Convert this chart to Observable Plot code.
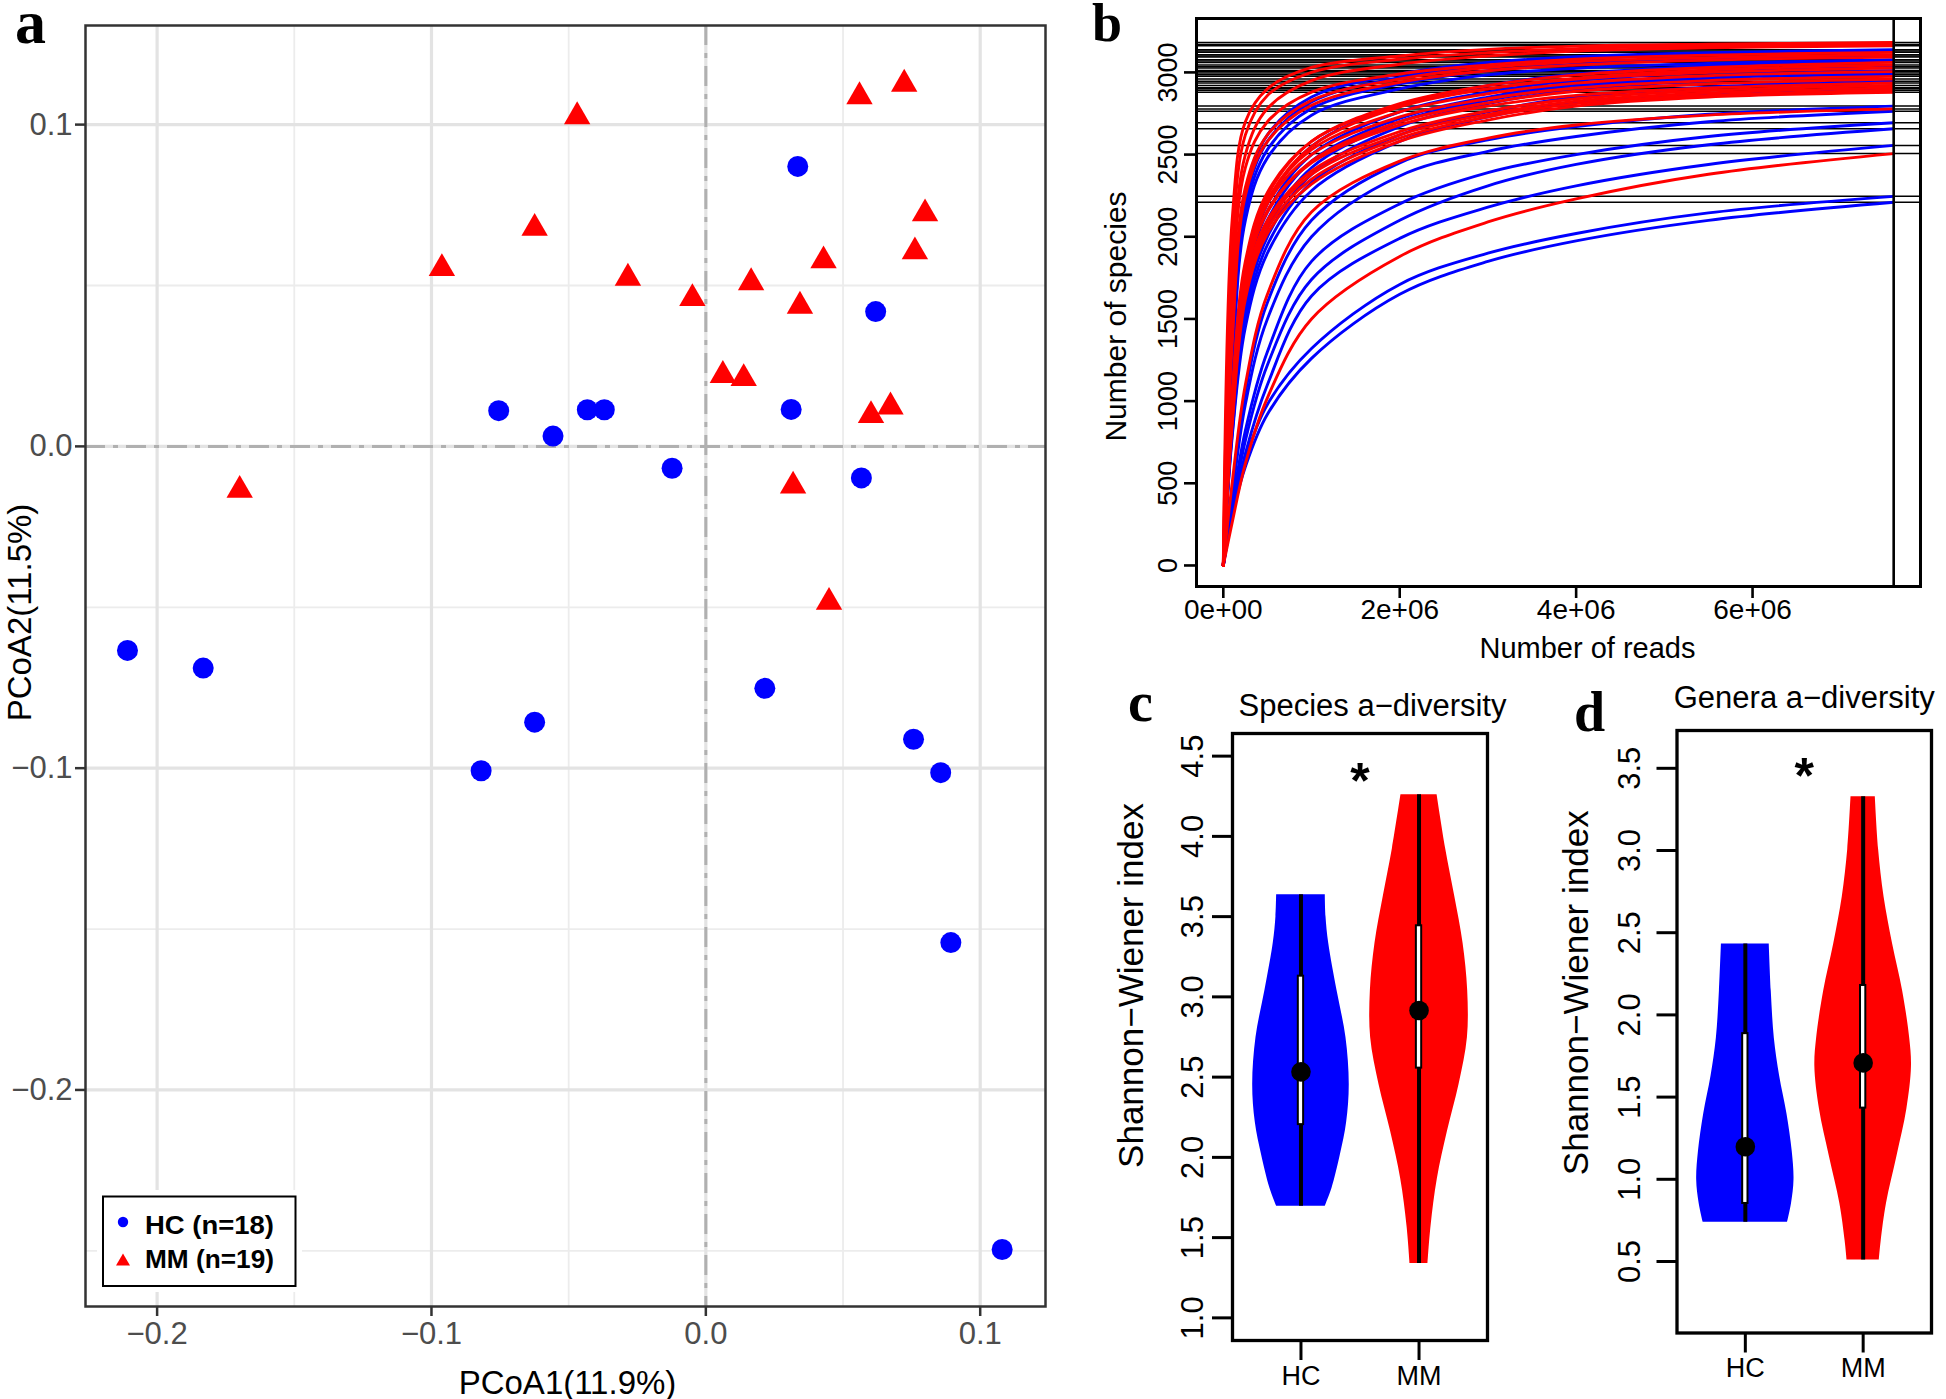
<!DOCTYPE html>
<html><head><meta charset="utf-8">
<script src="https://cdn.jsdelivr.net/npm/d3@7"></script>
<script src="https://cdn.jsdelivr.net/npm/@observablehq/plot@0.6"></script>
<style>
html,body{margin:0;padding:0;background:#fff;}
#root{position:relative;width:1946px;height:1399px;overflow:hidden;background:#fff;font-family:"Liberation Sans",Arial,sans-serif;}
.panel{position:absolute;}
</style></head><body><div id="root"></div>
<script>
// ================= DATA =================
const groups = ["HC", "MM"];
const groupColors = ["#0000FF", "#FF0000"];

// Panel a: PCoA coordinates
const hcPCoA1 = [0.0335, 0.0619, -0.0755, -0.0557, -0.0432, -0.0370, 0.0311, -0.0123, 0.0567, -0.2108, -0.1832, 0.0215, -0.0624, -0.0819, 0.0757, 0.0856, 0.0893, 0.1080];
const hcPCoA2 = [0.0870, 0.0419, 0.0111, 0.0032, 0.0114, 0.0114, 0.0115, -0.0068, -0.0098, -0.0634, -0.0689, -0.0752, -0.0857, -0.1008, -0.0910, -0.1014, -0.1542, -0.2496];
const mmPCoA1 = [-0.0469, 0.0560, 0.0723, 0.0799, 0.0762, -0.0624, -0.0962, -0.0284, -0.0049, 0.0429, 0.0165, 0.0343, 0.0062, 0.0138, 0.0673, 0.0602, -0.1699, 0.0318, 0.0449];
const mmPCoA2 = [0.1025, 0.1087, 0.1126, 0.0723, 0.0605, 0.0678, 0.0553, 0.0523, 0.0460, 0.0577, 0.0509, 0.0436, 0.0221, 0.0211, 0.0123, 0.0096, -0.0136, -0.0123, -0.0484];
const pcoaMajorTicks = [-0.2, -0.1, 0, 0.1];
const pcoaXMinor = [-0.15, -0.05, 0.05];
const pcoaYMinor = [-0.25, -0.15, -0.05, 0.05];
const pcoaXLabel = "PCoA1(11.9%)";
const pcoaYLabel = "PCoA2(11.5%)";

// Panel b: rarefaction curves (species observed at read depths, millions)
const depthsM = [0, 0.1, 0.25, 0.5, 1, 2, 3, 4, 5.5, 7.6];
const sampleDepth = 7.6e6;
const hcCurves = [
  [0, 1300, 2250, 2620, 2850, 2990, 3060, 3095, 3120, 3138],
  [0, 1250, 2200, 2580, 2820, 2970, 3040, 3080, 3110, 3130],
  [0, 1200, 2150, 2530, 2780, 2930, 3010, 3050, 3080, 3100],
  [0, 1150, 2100, 2480, 2740, 2900, 2985, 3025, 3055, 3077],
  [0, 950, 1750, 2200, 2550, 2800, 2920, 2990, 3040, 3070],
  [0, 900, 1700, 2150, 2500, 2760, 2880, 2950, 3000, 3035],
  [0, 880, 1650, 2100, 2460, 2720, 2850, 2925, 2980, 3011],
  [0, 850, 1600, 2050, 2420, 2700, 2830, 2910, 2965, 2996],
  [0, 820, 1550, 2000, 2380, 2670, 2810, 2895, 2950, 2985],
  [0, 800, 1500, 1950, 2330, 2620, 2760, 2850, 2910, 2946],
  [0, 780, 1450, 1900, 2280, 2580, 2730, 2815, 2865, 2900],
  [0, 450, 1050, 1600, 2100, 2450, 2590, 2670, 2745, 2795],
  [0, 420, 980, 1500, 2000, 2370, 2520, 2610, 2700, 2764],
  [0, 360, 820, 1300, 1850, 2200, 2390, 2500, 2610, 2694],
  [0, 330, 760, 1220, 1740, 2100, 2310, 2440, 2560, 2657],
  [0, 300, 680, 1100, 1640, 1990, 2180, 2310, 2440, 2556],
  [0, 330, 650, 980, 1320, 1710, 1900, 2020, 2145, 2246],
  [0, 300, 600, 920, 1260, 1650, 1850, 1975, 2100, 2210]
];
const mmCurves = [
  [0, 2100, 2700, 2900, 3030, 3100, 3140, 3160, 3172, 3182],
  [0, 1900, 2620, 2860, 3000, 3080, 3120, 3145, 3160, 3170],
  [0, 1700, 2500, 2780, 2950, 3050, 3100, 3130, 3150, 3162],
  [0, 1600, 2420, 2700, 2880, 2990, 3045, 3080, 3105, 3122],
  [0, 1400, 2300, 2620, 2830, 2960, 3030, 3065, 3090, 3108],
  [0, 1350, 2250, 2580, 2800, 2940, 3010, 3045, 3075, 3093],
  [0, 1000, 1800, 2250, 2580, 2810, 2920, 2985, 3030, 3061],
  [0, 980, 1780, 2220, 2550, 2790, 2900, 2965, 3015, 3045],
  [0, 1050, 1850, 2270, 2580, 2800, 2900, 2960, 3000, 3027],
  [0, 1000, 1800, 2220, 2530, 2760, 2870, 2935, 2980, 3005],
  [0, 1000, 1800, 2200, 2500, 2730, 2840, 2905, 2950, 2976],
  [0, 950, 1750, 2150, 2460, 2700, 2815, 2885, 2930, 2960],
  [0, 980, 1760, 2160, 2450, 2680, 2795, 2860, 2905, 2936],
  [0, 920, 1700, 2100, 2400, 2640, 2765, 2840, 2890, 2920],
  [0, 900, 1680, 2080, 2380, 2620, 2745, 2825, 2875, 2906],
  [0, 880, 1650, 2050, 2350, 2600, 2730, 2810, 2860, 2892],
  [0, 850, 1620, 2020, 2320, 2580, 2710, 2795, 2850, 2879],
  [0, 500, 1100, 1650, 2150, 2460, 2600, 2680, 2740, 2778],
  [0, 260, 620, 1020, 1500, 1880, 2090, 2230, 2380, 2506]
];
const rareXTicks = [0, 2e6, 4e6, 6e6];
const rareYTicks = [0, 500, 1000, 1500, 2000, 2500, 3000];

// Panels c, d: violin density profiles [value, half-width] and box stats [min, q1, median, q3, max]
const speciesHCProfile = [[3.637,0.206],[3.5,0.212],[3.334,0.235],[3.041,0.305],[2.747,0.381],[2.454,0.409],[2.219,0.387],[2.013,0.333],[1.808,0.263],[1.696,0.206]];
const speciesMMProfile = [[4.259,0.153],[3.922,0.226],[3.628,0.302],[3.334,0.373],[3.041,0.412],[2.747,0.410],[2.454,0.339],[2.160,0.240],[1.866,0.155],[1.573,0.102],[1.338,0.076]];
const generaHCProfile = [[2.432,0.203],[2.145,0.220],[1.858,0.246],[1.628,0.291],[1.399,0.353],[1.169,0.398],[0.997,0.413],[0.853,0.392],[0.738,0.358]];
const generaMMProfile = [[3.327,0.103],[3.006,0.131],[2.719,0.177],[2.432,0.250],[2.145,0.335],[1.858,0.395],[1.686,0.410],[1.427,0.371],[1.140,0.287],[0.853,0.198],[0.624,0.153],[0.509,0.137]];
const speciesStats = [[1.696, 2.204, 2.533, 3.129, 3.637], [1.338, 2.556, 2.915, 3.443, 4.259]];
const generaStats = [[0.738, 0.853, 1.198, 1.886, 2.432], [0.509, 1.433, 1.708, 2.179, 3.327]];
const speciesTicks = [1.0, 1.5, 2.0, 2.5, 3.0, 3.5, 4.0, 4.5];
const generaTicks = [0.5, 1.0, 1.5, 2.0, 2.5, 3.0, 3.5];
const signif = "*";

// ================= RENDER =================
const FONT = "Liberation Sans, Arial, Helvetica, sans-serif";
const root = document.getElementById("root");
function place(svg, left, top, w, h) {
  const div = document.createElement("div");
  div.className = "panel";
  div.style.left = left + "px"; div.style.top = top + "px";
  div.style.width = w + "px"; div.style.height = h + "px";
  div.appendChild(svg);
  root.appendChild(div);
}
const baseStyle = {fontFamily: FONT, background: "transparent", maxWidth: "none", overflow: "visible", color: "black"};

// ---- Panel a ----
const hcPts = hcPCoA1.map((x, i) => ({x, y: hcPCoA2[i]}));
const mmPts = mmPCoA1.map((x, i) => ({x, y: mmPCoA2[i]}));
const fmt1 = d3.format(".1f");
const plotA = Plot.plot({
  width: 1060, height: 1399,
  marginLeft: 85, marginRight: 15, marginTop: 25, marginBottom: 93,
  x: {domain: [-0.2261, 0.1238]},
  y: {domain: [-0.2673, 0.1308]},
  style: baseStyle,
  marks: [
    Plot.gridX(pcoaXMinor, {stroke: "#ececec", strokeOpacity: 1, strokeWidth: 1.8}),
    Plot.gridY(pcoaYMinor, {stroke: "#ececec", strokeOpacity: 1, strokeWidth: 1.8}),
    Plot.gridX(pcoaMajorTicks, {stroke: "#e3e3e3", strokeOpacity: 1, strokeWidth: 3.2}),
    Plot.gridY(pcoaMajorTicks, {stroke: "#e3e3e3", strokeOpacity: 1, strokeWidth: 3.2}),
    Plot.ruleX([0], {stroke: "#b0b0b0", strokeWidth: 3, strokeDasharray: "20,8,5,8"}),
    Plot.ruleY([0], {stroke: "#b0b0b0", strokeWidth: 3, strokeDasharray: "20,8,5,8"}),
    Plot.dot(hcPts, {x: "x", y: "y", r: 10.5, fill: groupColors[0]}),
    Plot.dot(mmPts, {x: "x", y: "y", r: 9.8, symbol: "triangle", fill: groupColors[1]}),
    Plot.frame({stroke: "#333333", strokeWidth: 2.5}),
    Plot.axisX(pcoaMajorTicks, {tickSize: 10, tickPadding: 5, strokeWidth: 2.5, stroke: "#333333", color: "#4d4d4d", fontSize: 31, tickFormat: fmt1, label: null}),
    Plot.axisY(pcoaMajorTicks, {tickSize: 10, tickPadding: 3, strokeWidth: 2.5, stroke: "#333333", color: "#4d4d4d", fontSize: 31, tickFormat: fmt1, label: null}),
    Plot.text([pcoaXLabel], {frameAnchor: "bottom", dx: 2, dy: 87, textAnchor: "middle", lineAnchor: "bottom", fontSize: 33, fill: "black"}),
    Plot.text([pcoaYLabel], {frameAnchor: "left", dx: -65, dy: -53.5, rotate: -90, textAnchor: "middle", lineAnchor: "middle", fontSize: 33, fill: "black"})
  ]
});
place(plotA, 0, 0, 1060, 1399);

// ---- Panel b ----
const depth = depthsM.map(d => d * 1e6);
const curveRows = [];
const endValues = [];
[hcCurves, mmCurves].forEach((set, gi) => set.forEach((c, i) => {
  c.forEach((v, j) => curveRows.push({id: groups[gi] + i, grp: gi, reads: depth[j], species: v}));
  endValues.push(c[c.length - 1]);
}));
const sciFmt = d => {
  if (d === 0) return "0e+00";
  const e = Math.floor(Math.log10(d));
  return `${Math.round(d / 10 ** e)}e+${String(e).padStart(2, "0")}`;
};
const plotB = Plot.plot({
  width: 866, height: 660,
  marginLeft: 116, marginRight: 26, marginTop: 18, marginBottom: 74,
  x: {domain: [-0.304e6, 7.904e6]},
  y: {domain: [-128, 3328]},
  style: baseStyle,
  marks: [
    Plot.ruleY(endValues, {stroke: "black", strokeWidth: 1.5}),
    Plot.line(curveRows, {x: "reads", y: "species", z: "id", stroke: d => groupColors[d.grp], strokeWidth: 2.9, curve: "catmull-rom"}),
    Plot.ruleX([sampleDepth], {stroke: "black", strokeWidth: 2.6}),
    Plot.frame({stroke: "black", strokeWidth: 3}),
    Plot.axisX(rareXTicks, {tickSize: 12, tickPadding: 1, strokeWidth: 2.6, color: "black", fontSize: 28, tickFormat: sciFmt, label: null}),
    Plot.axisY(rareYTicks, {tickSize: 12, strokeWidth: 2.6, color: "black", tickFormat: () => "", label: null}),
    Plot.text(rareYTicks, {y: d => d, frameAnchor: "left", dx: -28, rotate: -90, textAnchor: "middle", lineAnchor: "middle", fontSize: 27, text: d => String(d), fill: "black"}),
    Plot.text(["Number of reads"], {frameAnchor: "bottom", dx: 29, dy: 71, textAnchor: "middle", lineAnchor: "bottom", fontSize: 29, fill: "black"}),
    Plot.text(["Number of species"], {frameAnchor: "left", dx: -80, dy: 14, rotate: -90, textAnchor: "middle", lineAnchor: "middle", fontSize: 30, fill: "black"})
  ]
});
place(plotB, 1080, 0, 866, 660);

// ---- Panels c, d ----
function violinPanel(cfg) {
  const rows = [];
  cfg.profiles.forEach((prof, gi) => {
    const pos = gi + 1;
    prof.slice().sort((a, b) => a[0] - b[0]).forEach(([v, hw]) => rows.push({g: gi, y: v, x1: pos - hw, x2: pos + hw}));
  });
  const stats = cfg.stats.map((s, gi) => ({g: gi, pos: gi + 1, min: s[0], q1: s[1], med: s[2], q3: s[3], max: s[4]}));
  return Plot.plot({
    width: cfg.width, height: cfg.height,
    marginLeft: cfg.ml, marginRight: cfg.mr, marginTop: cfg.mt, marginBottom: cfg.mb,
    x: {domain: [0.42, 2.58]},
    y: {domain: cfg.yDomain},
    style: baseStyle,
    marks: [
      Plot.areaX(rows, {y: "y", x1: "x1", x2: "x2", z: "g", fill: d => groupColors[d.g], curve: "catmull-rom"}),
      Plot.ruleX(stats, {x: "pos", y1: "min", y2: "max", stroke: "black", strokeWidth: 4}),
      Plot.rect(stats, {x1: d => d.pos - 0.0225, x2: d => d.pos + 0.0225, y1: "q1", y2: "q3", fill: "white", stroke: "black", strokeWidth: 2}),
      Plot.dot(stats, {x: "pos", y: "med", r: 9.8, fill: "black"}),
      Plot.text([signif], {x: 1.5, frameAnchor: "top", dy: cfg.starDy, textAnchor: "middle", lineAnchor: "bottom", fontSize: 50, fontWeight: "bold", fill: "black"}),
      Plot.frame({stroke: "black", strokeWidth: 3.3}),
      Plot.axisX([1, 2], {tickSize: 20, tickPadding: 5, strokeWidth: 3, color: "black", fontSize: 27, tickFormat: d => groups[d - 1], label: null}),
      Plot.axisY(cfg.yTicks, {tickSize: 20, strokeWidth: 3, color: "black", tickFormat: () => "", label: null}),
      Plot.text(cfg.yTicks, {y: d => d, frameAnchor: "left", dx: cfg.tickDx, rotate: -90, textAnchor: "middle", lineAnchor: "middle", fontSize: 31, text: d => d.toFixed(1), fill: "black"}),
      Plot.text(["Shannon\u2212Wiener index"], {frameAnchor: "left", dx: cfg.ylabDx, dy: cfg.ylabDy, rotate: -90, textAnchor: "middle", lineAnchor: "middle", fontSize: 35, fill: "black"}),
      Plot.text([cfg.title], {frameAnchor: "top", dx: cfg.titleDx, dy: cfg.titleDy, textAnchor: "middle", lineAnchor: "bottom", fontSize: 31, fill: "black"})
    ]
  });
}
const plotC = violinPanel({
  width: 480, height: 739, ml: 152, mr: 73, mt: 73, mb: 59,
  yDomain: [0.859, 4.641], yTicks: speciesTicks,
  profiles: [speciesHCProfile, speciesMMProfile], stats: speciesStats,
  starDy: 64, tickDx: -39, ylabDx: -101, ylabDy: -51.5,
  title: "Species a\u2212diversity", titleDx: 12.5, titleDy: -18
});
place(plotC, 1080, 660, 480, 739);
const plotD = violinPanel({
  width: 406, height: 739, ml: 136.5, mr: 15, mt: 70, mb: 66.5,
  yDomain: [0.065, 3.73], yTicks: generaTicks,
  profiles: [generaHCProfile, generaMMProfile], stats: generaStats,
  starDy: 62, tickDx: -46.5, ylabDx: -100.7, ylabDy: -39,
  title: "Genera a\u2212diversity", titleDx: 0, titleDy: -23
});
place(plotD, 1540, 660, 406, 739);

// ---- Overlay: panel letters and legend of panel a ----
const NS = "http://www.w3.org/2000/svg";
const ov = document.createElementNS(NS, "svg");
ov.setAttribute("width", 1946); ov.setAttribute("height", 1399);
ov.style.position = "absolute"; ov.style.left = "0"; ov.style.top = "0";
function el(tag, attrs, text) {
  const e = document.createElementNS(NS, tag);
  for (const k in attrs) e.setAttribute(k, attrs[k]);
  if (text != null) e.textContent = text;
  ov.appendChild(e);
  return e;
}
const letterFont = "Liberation Serif, Times New Roman, serif";
[["a", 15, 43, 62], ["b", 1092, 41, 54], ["c", 1128, 721, 56], ["d", 1574, 731, 56]].forEach(([t, x, y, s]) =>
  el("text", {x, y, "font-family": letterFont, "font-weight": "bold", "font-size": s, fill: "black"}, t));
el("rect", {x: 97, y: 1190, width: 205, height: 102, fill: "white"});
el("rect", {x: 103, y: 1196.5, width: 192.5, height: 89.5, fill: "white", stroke: "black", "stroke-width": 2});
el("circle", {cx: 123, cy: 1222, r: 5.2, fill: groupColors[0]});
el("path", {d: "M123,1253.5L130,1265.5L116,1265.5Z", fill: groupColors[1]});
const counts = [hcPCoA1.length, mmPCoA1.length];
groups.forEach((g, i) => el("text", {x: 145, y: i === 0 ? 1234 : 1268, "font-family": FONT, "font-weight": "bold", "font-size": 25, textLength: 129, lengthAdjust: "spacingAndGlyphs", fill: "black"}, `${g} (n=${counts[i]})`));
root.appendChild(ov);
</script></body></html>
